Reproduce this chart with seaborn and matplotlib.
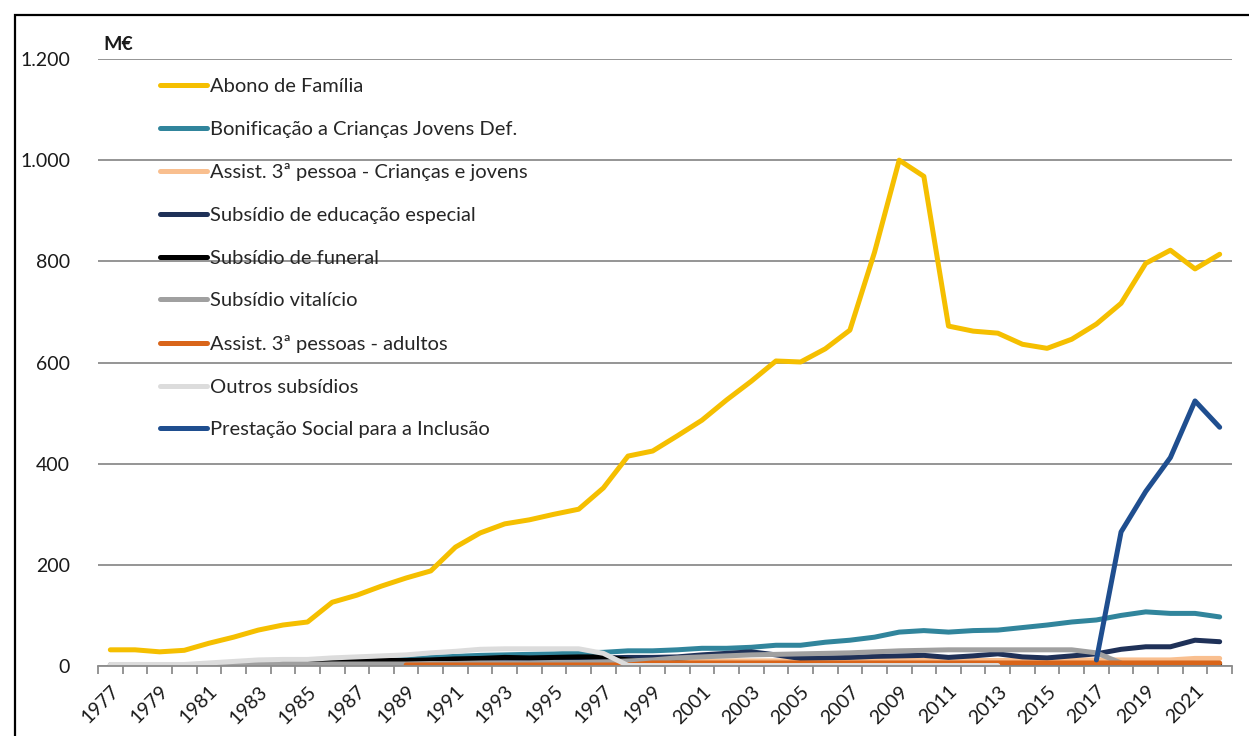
import numpy as np
import pandas as pd
import matplotlib
matplotlib.use("Agg")
import matplotlib.pyplot as plt
import seaborn as sns
from matplotlib.patches import Rectangle
from matplotlib.ticker import FuncFormatter, MultipleLocator

# ── Dados (M€) ─────────────────────────────────────────────────────────────
nan = np.nan
years = list(range(1977, 2023))

abono = [32, 32, 28, 31, 45, 57, 71, 81, 87, 126,
         140, 158, 174, 188, 235, 263, 281, 289, 300, 310,
         352, 415, 425, 455, 486, 526, 563, 603, 601, 627,
         664, 818, 1000, 968, 672, 662, 658, 636, 628, 646,
         676, 717, 796, 822, 785, 814]
bonificacao = [nan, nan, nan, nan, nan, nan, nan, nan, nan, 4,
               7, 10, 13, 17, 19, 21, 22, 23, 24, 26,
               27, 30, 30, 32, 35, 35, 37, 41, 41, 47,
               51, 57, 67, 70, 67, 70, 71, 76, 81, 87,
               91, 100, 107, 104, 104, 97]
assist_criancas = [nan] * 23 + [9, 10, 10, 10, 10, 11, 11, 11, 11, 11, 11, 11,
                                11, 11, 11, 12, 12, 12, 12, 12, 12, 15, 15]
educacao_especial = [nan, nan, nan, nan, 2, 3, 4, 5, 6, 7,
                     8, 9, 10, 11, 12, 13, 14, 14, 15, 16,
                     16, 17, 17, 18, 22, 25, 28, 22, 15, 16,
                     17, 19, 20, 21, 17, 20, 24, 18, 16, 20,
                     24, 33, 38, 38, 51, 48]
funeral = [2, 2, 2, 2, 3, 5, 7, 8, 8, 9,
           10, 11, 11, 12, 14, 15, 17, 16, 17, 18,
           18, 12, 8, 6, 4, 4, 4, 4, 4, 4,
           4, 4, 4, 4, 4, 4, 4, 4, 4, 4,
           4, 4, 4, 4, 4, 4]
vitalicio = [1, 1, 1, 1, 2, 2, 3, 3, 3, 4,
             4, 4, 4, 5, 5, 6, 6, 6, 7, 7,
             8, 10, 12, 16, 18, 20, 22, 23, 24, 25,
             26, 28, 30, 31, 32, 32, 32, 32, 32, 32,
             26, 6, nan, nan, nan, nan]
assist_adultos = [nan] * 12 + [2] * 10 + [6] * 24
outros = [3, 3, 3, 3, 6, 9, 12, 13, 13, 16,
          18, 20, 22, 26, 29, 33, 34, 34, 34, 34,
          25, 1, 1, 1, 1, 1, 1, 1, 1, 1,
          1, 1, 1, 1, 1, 1, 1, nan, nan, nan,
          nan, nan, nan, nan, nan, nan]
psi = [nan] * 40 + [12, 265, 345, 412, 524, 472]

labels = ["Abono de Família",
          "Bonificação a Crianças Jovens Def.",
          "Assist. 3ª pessoa - Crianças e jovens",
          "Subsídio de educação especial",
          "Subsídio de funeral",
          "Subsídio vitalício",
          "Assist. 3ª pessoas - adultos",
          "Outros subsídios",
          "Prestação Social para a Inclusão"]
values = [abono, bonificacao, assist_criancas, educacao_especial, funeral,
          vitalicio, assist_adultos, outros, psi]
colors = ["#F5BF00", "#31859C", "#F9BF8F", "#1F3158", "#000000",
          "#A0A0A0", "#D9651A", "#DCDCDC", "#1F4E8F"]

df = pd.DataFrame({
    "ano": years * len(labels),
    "serie": [lbl for lbl in labels for _ in years],
    "valor": [v for vals in values for v in vals],
})

# ── Figura ─────────────────────────────────────────────────────────────────
sns.set_theme(style="white")
plt.rcParams["font.family"] = ["Lato", "DejaVu Sans"]

W, H = 1249, 736
fig = plt.figure(figsize=(W / 100, H / 100), dpi=100)
ax = fig.add_axes([98 / W, 1 - 666 / H, (1232 - 98) / W, (666 - 59) / H])

sns.lineplot(data=df, x="ano", y="valor", hue="serie", hue_order=labels,
             palette=colors, linewidth=3.6, sort=False, estimator=None,
             solid_capstyle="round", solid_joinstyle="round", ax=ax)

ax.set_xlim(1976.5, 2022.5)
ax.set_ylim(0, 1200)
ax.set_xlabel(""); ax.set_ylabel("")

ax.yaxis.set_major_locator(MultipleLocator(200))
ax.yaxis.set_major_formatter(FuncFormatter(lambda v, p: f"{v:,.0f}".replace(",", ".")))
ax.grid(axis="y", color="#8C8C8C", lw=1.3)
ax.grid(axis="x", visible=False)
ax.set_axisbelow(True)
for s in ["left", "top", "right"]:
    ax.spines[s].set_visible(False)
ax.spines["bottom"].set_color("#8C8C8C")
ax.spines["bottom"].set_linewidth(1.3)

ax.set_xticks(years[::2])
ax.set_xticklabels([str(y) for y in years[::2]], rotation=45, ha="right",
                   rotation_mode="anchor")
ax.set_xticks(np.arange(1976.5, 2023, 1), minor=True)
ax.tick_params(axis="x", which="major", length=0, pad=12, labelsize=14, colors="#1A1A1A")
ax.tick_params(axis="x", which="minor", length=6, width=1.3, color="#8C8C8C",
               direction="out", bottom=True)
ax.tick_params(axis="y", length=0, pad=20, labelsize=14, colors="#1A1A1A")

handles, lbls = ax.get_legend_handles_labels()
ax.legend(handles, lbls, loc="upper left", bbox_to_anchor=(160 / W, 1 - 78 / H),
          bbox_transform=fig.transFigure, frameon=False, fontsize=14.5,
          handlelength=2.35, handletextpad=0.12, labelspacing=1.27,
          borderpad=0, borderaxespad=0)

fig.text(103 / W, 1 - 44 / H, "M€", fontsize=14, fontweight="bold",
         va="center", ha="left", color="#1A1A1A")

fig.patches.append(Rectangle((15 / W, -0.1), 1.2, 1 - 15 / H + 0.1,
                             transform=fig.transFigure, fill=False,
                             lw=1.6, ec="black"))

fig.savefig("out.png", dpi=100)
